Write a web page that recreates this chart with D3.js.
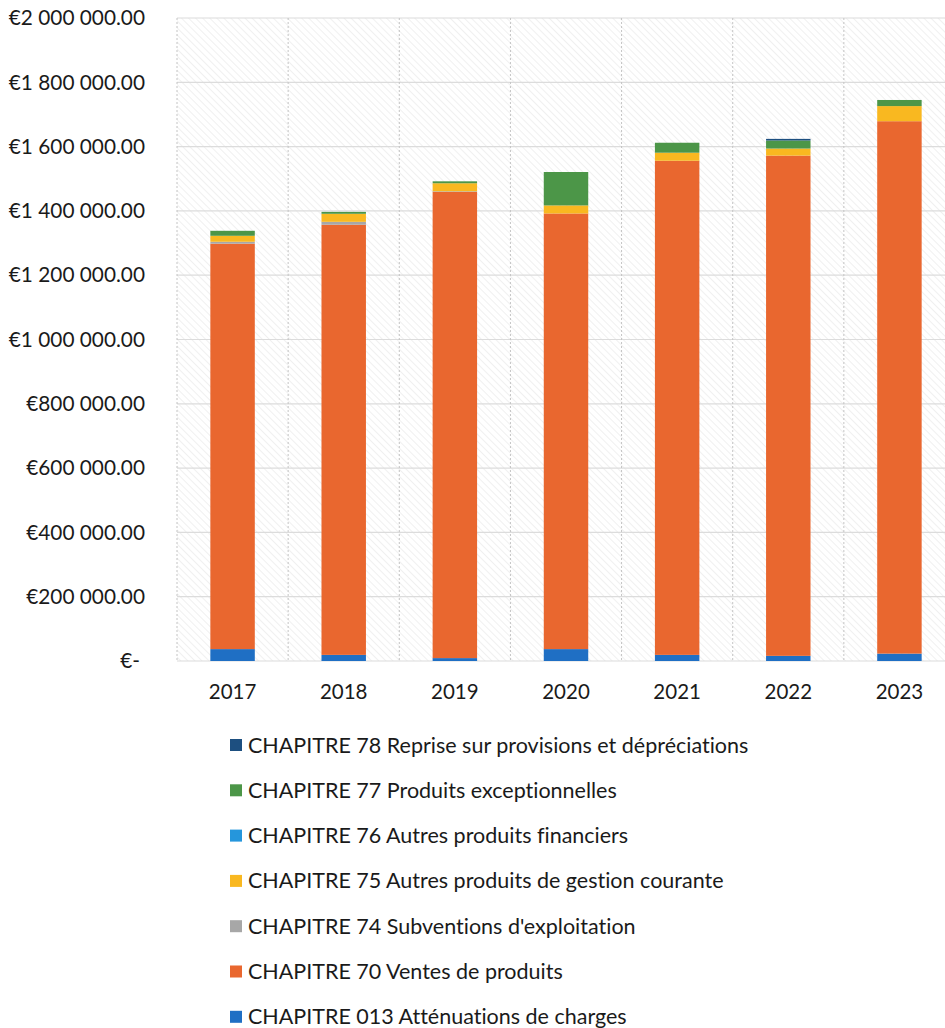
<!DOCTYPE html>
<html>
<head>
<meta charset="utf-8">
<script src="https://cdn.jsdelivr.net/npm/d3@7"></script>
<style>
  body { margin: 0; background: #fff; }
  svg { display: block; font-family: Lato, "Open Sans", sans-serif; font-variant-ligatures: none; font-feature-settings: "liga" 0, "dlig" 0; }
</style>
</head>
<body>
<svg id="chart" width="945" height="1028"></svg>
<script>
// Categories and series (values in euros)
const years = ['2017', '2018', '2019', '2020', '2021', '2022', '2023'];

const ch013 = [37000, 19000, 9000, 37000, 19000, 16000, 23000];
const ch70 = [1261000, 1338000, 1450000, 1355000, 1537000, 1556000, 1656000];
const ch74 = [6000, 9000, 2000, 0, 0, 0, 0];
const ch75 = [18600, 25000, 25000, 25000, 25000, 22000, 47000];
const ch76 = [0, 0, 0, 0, 0, 0, 0];
const ch77 = [15500, 6000, 6000, 104000, 31000, 25000, 19000];
const ch78 = [0, 0, 0, 0, 0, 5000, 0];

const yTicks = [0, 200000, 400000, 600000, 800000, 1000000, 1200000, 1400000, 1600000, 1800000, 2000000];

// stacking order, bottom to top
const series = [
  { key: 'c013', label: 'CHAPITRE 013 Atténuations de charges', color: '#1f6fc4', values: ch013 },
  { key: 'c70', label: 'CHAPITRE 70 Ventes de produits', color: '#e9672f', values: ch70 },
  { key: 'c74', label: "CHAPITRE 74 Subventions d'exploitation", color: '#a7a7a7', values: ch74 },
  { key: 'c75', label: 'CHAPITRE 75 Autres produits de gestion courante', color: '#f9b820', values: ch75 },
  { key: 'c76', label: 'CHAPITRE 76 Autres produits financiers', color: '#2596dc', values: ch76 },
  { key: 'c77', label: 'CHAPITRE 77 Produits exceptionnelles', color: '#4c9648', values: ch77 },
  { key: 'c78', label: 'CHAPITRE 78 Reprise sur provisions et dépréciations', color: '#1d4f80', values: ch78 }
];

const rows = years.map((y, i) => {
  const r = { year: y };
  series.forEach((s) => { r[s.key] = s.values[i]; });
  return r;
});

const svg = d3.select('#chart');

const x = d3.scaleBand().domain(years).range([177, 955]).padding(0);
const y = d3.scaleLinear().domain([0, 2000000]).range([661, 18]);
const barW = x.bandwidth() * 0.4;

// Hatched plot background
const defs = svg.append('defs');
const pat = defs.append('pattern')
  .attr('id', 'hatch')
  .attr('patternUnits', 'userSpaceOnUse')
  .attr('width', 5)
  .attr('height', 5)
  .attr('patternTransform', 'rotate(-45)');
pat.append('line')
  .attr('x1', 0).attr('y1', 0).attr('x2', 0).attr('y2', 5)
  .attr('stroke', '#e8e8e8')
  .attr('stroke-width', 1.3);

svg.append('rect')
  .attr('x', x.range()[0])
  .attr('y', y(2000000))
  .attr('width', x.range()[1] - x.range()[0])
  .attr('height', y(0) - y(2000000))
  .attr('fill', 'url(#hatch)');

// Horizontal gridlines
svg.append('g')
  .selectAll('line')
  .data(yTicks)
  .join('line')
  .attr('x1', x.range()[0])
  .attr('x2', x.range()[1])
  .attr('y1', (d) => y(d))
  .attr('y2', (d) => y(d))
  .attr('stroke', '#dcdcdc')
  .attr('stroke-width', 1.2);

// Vertical gridlines at category boundaries
svg.append('g')
  .selectAll('line')
  .data(years)
  .join('line')
  .attr('x1', (d) => x(d))
  .attr('x2', (d) => x(d))
  .attr('y1', y(2000000))
  .attr('y2', y(0))
  .attr('stroke', '#c4c4c4')
  .attr('stroke-width', 1)
  .attr('stroke-dasharray', '2,2');

// Stacked bars
const stack = d3.stack().keys(series.map((s) => s.key));
const layers = stack(rows);

svg.append('g')
  .selectAll('g')
  .data(layers)
  .join('g')
  .attr('fill', (d, i) => series[i].color)
  .selectAll('rect')
  .data((d) => d)
  .join('rect')
  .attr('x', (d) => x(d.data.year) + (x.bandwidth() - barW) / 2)
  .attr('width', barW)
  .attr('y', (d) => y(d[1]))
  .attr('height', (d) => Math.max(0, y(d[0]) - y(d[1])));

// Y axis labels
const fmt = (v) => {
  if (v === 0) return '€-';
  return '€' + d3.format(',.2f')(v).replace(/,/g, ' ');
};

svg.append('g')
  .selectAll('text')
  .data(yTicks)
  .join('text')
  .attr('x', (d) => (d === 0 ? 140 : 145))
  .attr('y', (d) => y(d))
  .attr('dy', '0.35em')
  .attr('text-anchor', 'end')
  .attr('font-size', 20.8)
  .attr('fill', '#1a1a1a')
  .text(fmt);

// X axis labels
svg.append('g')
  .selectAll('text')
  .data(years)
  .join('text')
  .attr('x', (d) => x(d) + x.bandwidth() / 2)
  .attr('y', 692)
  .attr('dy', '0.35em')
  .attr('text-anchor', 'middle')
  .attr('font-size', 20.5)
  .attr('fill', '#1a1a1a')
  .text((d) => d);

// Legend (reverse order, top entry = last series)
const legend = svg.append('g')
  .selectAll('g')
  .data(series.slice().reverse())
  .join('g')
  .attr('transform', (d, i) => `translate(230, ${745 + i * 45.3})`);

legend.append('rect')
  .attr('x', 0)
  .attr('y', -6)
  .attr('width', 12)
  .attr('height', 12)
  .attr('fill', (d) => d.color);

legend.append('text')
  .attr('x', 18)
  .attr('y', 0)
  .attr('dy', '0.35em')
  .attr('font-size', 21.5)
  .attr('fill', '#1a1a1a')
  .text((d) => d.label);
</script>
</body>
</html>
